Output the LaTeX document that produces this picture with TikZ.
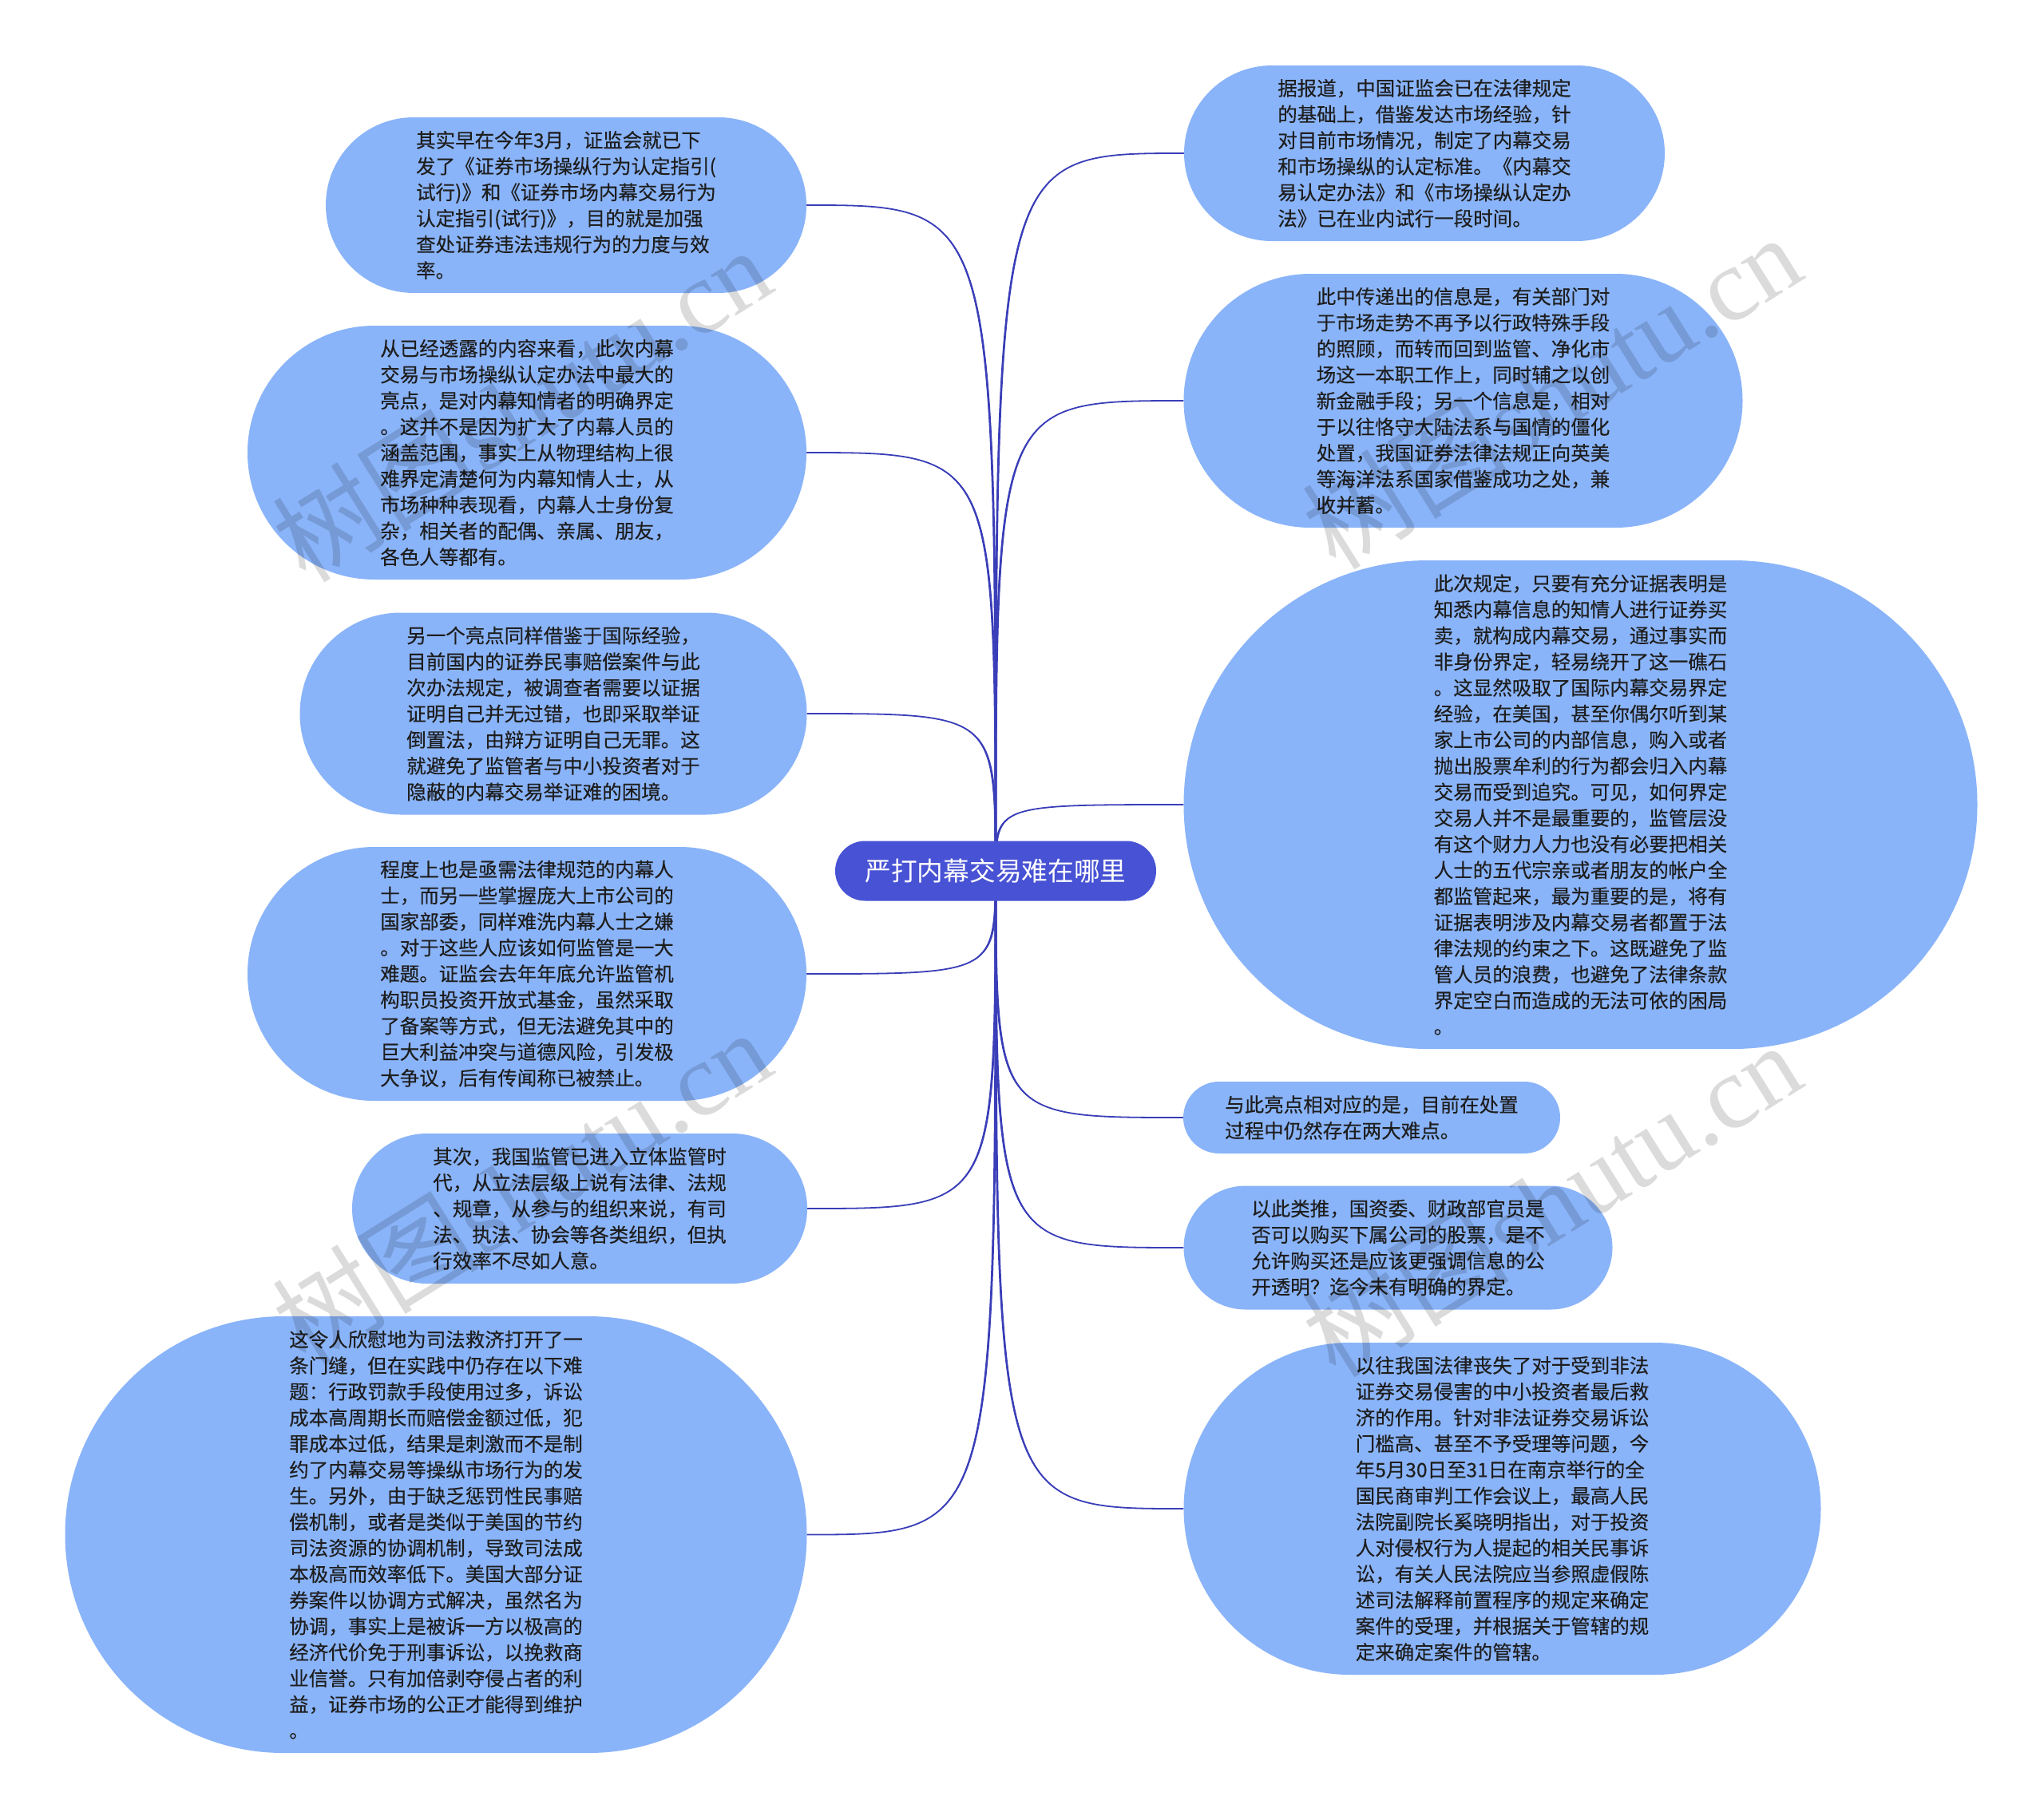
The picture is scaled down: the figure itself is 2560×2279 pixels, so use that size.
\documentclass[tikz,border=0pt]{standalone}
\usepackage{fontspec}
\setmainfont{Noto Sans CJK SC}
\newfontfamily\leaffont{Noto Sans CJK SC}[FakeBold=0.35]
\newfontfamily\wmlatin{Liberation Serif}
\definecolor{leafc}{RGB}{138,180,249}
\definecolor{rootc}{RGB}{72,82,212}
\definecolor{linec}{RGB}{58,62,184}
\definecolor{textc}{RGB}{30,30,30}
\pgfdeclarelayer{bg}
\pgfdeclarelayer{links}
\pgfsetlayers{bg,links,main}
\tikzset{
  leaf/.style={fill=leafc, draw=none, align=left, inner sep=0pt, text=textc,
    font={\leaffont\fontsize{24.5pt}{32.65pt}\selectfont}},
  rootbox/.style={fill=rootc, draw=none, inner sep=0pt, text=white,
    font={\fontsize{32.7pt}{36pt}\selectfont}},
  conn/.style={draw=linec, line width=1.8pt},
  wedge/.style={fill=linec, draw=none},
  wmark/.style={rotate=32, text=black, opacity=0.14, inner sep=0pt,
    font={\fontsize{130pt}{130pt}\selectfont}}
}
\begin{document}
\begin{tikzpicture}[x=1pt,y=-1pt]
\useasboundingbox (0,0) rectangle (2560,2279);
\begin{pgfonlayer}{bg}
\fill[white] (0,0) rectangle (2560,2279);
\end{pgfonlayer}

% root
\node[rootbox, minimum width=402pt, minimum height=75pt, rounded corners=37.5pt] (root) at (1247,1091) {严打内幕交易难在哪里};

% left nodes
\node[leaf, minimum width=602pt, minimum height=220pt, rounded corners=110pt] (l1) at (709,257) {其实早在今年3月，证监会就已下\\发了《证券市场操纵行为认定指引(\\试行)》和《证券市场内幕交易行为\\认定指引(试行)》，目的就是加强\\查处证券违法违规行为的力度与效\\率。};

\node[leaf, minimum width=700pt, minimum height=318pt, rounded corners=159pt] (l2) at (660,567) {从已经透露的内容来看，此次内幕\\交易与市场操纵认定办法中最大的\\亮点，是对内幕知情者的明确界定\\。这并不是因为扩大了内幕人员的\\涵盖范围，事实上从物理结构上很\\难界定清楚何为内幕知情人士，从\\市场种种表现看，内幕人士身份复\\杂，相关者的配偶、亲属、朋友，\\各色人等都有。};

\node[leaf, minimum width=635pt, minimum height=253pt, rounded corners=126.5pt] (l3) at (693,894) {另一个亮点同样借鉴于国际经验，\\目前国内的证券民事赔偿案件与此\\次办法规定，被调查者需要以证据\\证明自己并无过错，也即采取举证\\倒置法，由辩方证明自己无罪。这\\就避免了监管者与中小投资者对于\\隐蔽的内幕交易举证难的困境。};

\node[leaf, minimum width=700pt, minimum height=318pt, rounded corners=159pt] (l4) at (660,1220) {程度上也是亟需法律规范的内幕人\\士，而另一些掌握庞大上市公司的\\国家部委，同样难洗内幕人士之嫌\\。对于这些人应该如何监管是一大\\难题。证监会去年年底允许监管机\\构职员投资开放式基金，虽然采取\\了备案等方式，但无法避免其中的\\巨大利益冲突与道德风险，引发极\\大争议，后有传闻称已被禁止。};

\node[leaf, minimum width=570pt, minimum height=188pt, rounded corners=94pt] (l5) at (726,1514) {其次，我国监管已进入立体监管时\\代，从立法层级上说有法律、法规\\、规章，从参与的组织来说，有司\\法、执法、协会等各类组织，但执\\行效率不尽如人意。};

\node[leaf, minimum width=929pt, minimum height=547pt, rounded corners=273.5pt] (l6) at (546,1922.5) {这令人欣慰地为司法救济打开了一\\条门缝，但在实践中仍存在以下难\\题：行政罚款手段使用过多，诉讼\\成本高周期长而赔偿金额过低，犯\\罪成本过低，结果是刺激而不是制\\约了内幕交易等操纵市场行为的发\\生。另外，由于缺乏惩罚性民事赔\\偿机制，或者是类似于美国的节约\\司法资源的协调机制，导致司法成\\本极高而效率低下。美国大部分证\\券案件以协调方式解决，虽然名为\\协调，事实上是被诉一方以极高的\\经济代价免于刑事诉讼，以挽救商\\业信誉。只有加倍剥夺侵占者的利\\益，证券市场的公正才能得到维护\\。};

% right nodes
\node[leaf, minimum width=602pt, minimum height=220pt, rounded corners=110pt] (r1) at (1784,192) {据报道，中国证监会已在法律规定\\的基础上，借鉴发达市场经验，针\\对目前市场情况，制定了内幕交易\\和市场操纵的认定标准。《内幕交\\易认定办法》和《市场操纵认定办\\法》已在业内试行一段时间。};

\node[leaf, minimum width=700pt, minimum height=318pt, rounded corners=159pt] (r2) at (1832.5,502) {此中传递出的信息是，有关部门对\\于市场走势不再予以行政特殊手段\\的照顾，而转而回到监管、净化市\\场这一本职工作上，同时辅之以创\\新金融手段；另一个信息是，相对\\于以往恪守大陆法系与国情的僵化\\处置，我国证券法律法规正向英美\\等海洋法系国家借鉴成功之处，兼\\收并蓄。};

\node[leaf, minimum width=994pt, minimum height=612pt, rounded corners=306pt] (r3) at (1979.5,1008) {此次规定，只要有充分证据表明是\\知悉内幕信息的知情人进行证券买\\卖，就构成内幕交易，通过事实而\\非身份界定，轻易绕开了这一礁石\\。这显然吸取了国际内幕交易界定\\经验，在美国，甚至你偶尔听到某\\家上市公司的内部信息，购入或者\\抛出股票牟利的行为都会归入内幕\\交易而受到追究。可见，如何界定\\交易人并不是最重要的，监管层没\\有这个财力人力也没有必要把相关\\人士的五代宗亲或者朋友的帐户全\\都监管起来，最为重要的是，将有\\证据表明涉及内幕交易者都置于法\\律法规的约束之下。这既避免了监\\管人员的浪费，也避免了法律条款\\界定空白而造成的无法可依的困局\\。};

\node[leaf, minimum width=472pt, minimum height=90pt, rounded corners=45pt] (r4) at (1718,1400) {与此亮点相对应的是，目前在处置\\过程中仍然存在两大难点。};

\node[leaf, minimum width=537pt, minimum height=155pt, rounded corners=77.5pt] (r5) at (1751,1563) {以此类推，国资委、财政部官员是\\否可以购买下属公司的股票，是不\\允许购买还是应该更强调信息的公\\开透明？迄今未有明确的界定。};

\node[leaf, minimum width=798pt, minimum height=416pt, rounded corners=208pt] (r6) at (1881.5,1890) {以往我国法律丧失了对于受到非法\\证券交易侵害的中小投资者最后救\\济的作用。针对非法证券交易诉讼\\门槛高、甚至不予受理等问题，今\\年5月30日至31日在南京举行的全\\国民商审判工作会议上，最高人民\\法院副院长奚晓明指出，对于投资\\人对侵权行为人提起的相关民事诉\\讼，有关人民法院应当参照虚假陈\\述司法解释前置程序的规定来确定\\案件的受理，并根据关于管辖的规\\定来确定案件的管辖。};

% connectors (slightly tapered towards the root)
\begin{pgfonlayer}{links}
\foreach \n in {l1,l2,l3,l4,l5,l6}{
  \draw[conn] (root.center) .. controls (root.center |- \n.east) .. (\n.east);
  \fill[wedge] ([xshift=-1.4pt]root.center) .. controls ([xshift=-1.4pt]root.center |- \n.east) .. (\n.east)
    .. controls ([xshift=1.4pt]root.center |- \n.east) .. ([xshift=1.4pt]root.center) -- cycle;
}
\foreach \n in {r1,r2,r3,r4,r5,r6}{
  \draw[conn] (root.center) .. controls (root.center |- \n.west) .. (\n.west);
  \fill[wedge] ([xshift=-1.4pt]root.center) .. controls ([xshift=-1.4pt]root.center |- \n.west) .. (\n.west)
    .. controls ([xshift=1.4pt]root.center |- \n.west) .. ([xshift=1.4pt]root.center) -- cycle;
}
\end{pgfonlayer}

% watermarks
\node[wmark] (wm1) at (653,506) {树图{\wmlatin shutu.cn}};
\node[wmark] (wm2) at (653,1486) {树图{\wmlatin shutu.cn}};
\node[wmark] (wm3) at (1943,490) {树图{\wmlatin shutu.cn}};
\node[wmark] (wm4) at (1943,1502) {树图{\wmlatin shutu.cn}};
\end{tikzpicture}
\end{document}
